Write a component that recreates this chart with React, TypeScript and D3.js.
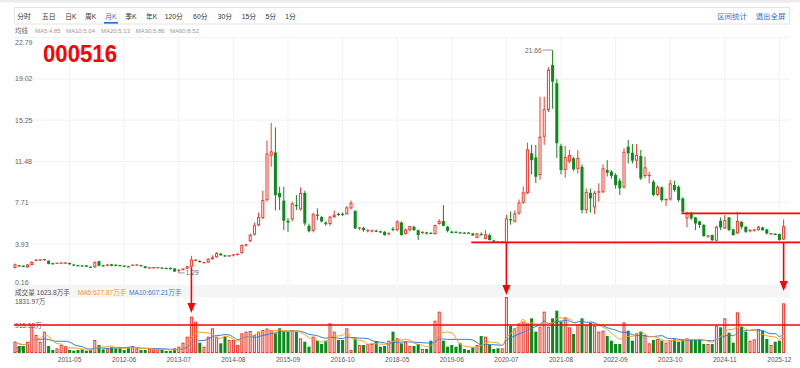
import React from "react";
import * as d3 from "d3";

// ---------------- DATA ----------------
const firstMonth = "2010-04";
const lastMonth = "2026-01";
const suspendedMonths = ["2017-02", "2017-03", "2017-04", "2017-05", "2017-06", "2017-07"];

const tickLabels = [
  "2011-05", "2012-06", "2013-07", "2014-08", "2015-09", "2016-10", "2018-05",
  "2019-06", "2020-07", "2021-08", "2022-09", "2023-10", "2024-11", "2025-12",
];

const openV = [
  1.75, 1.98, 1.95, 1.80, 2.02, 2.42, 2.44, 2.46, 2.40, 2.18,
  2.14, 2.15, 2.16, 2.20, 2.06, 2.00, 1.98, 1.98, 1.86, 1.80,
  2.36, 1.98, 1.96, 2.08, 2.04, 2.00, 1.96, 1.90, 1.96, 1.98,
  2.00, 1.90, 1.74, 1.74, 1.76, 1.78, 1.74, 1.76, 1.70, 1.48,
  1.56, 1.68, 1.85, 2.40, 2.38, 2.20, 2.24, 2.55, 2.72, 3.05,
  2.90, 2.80, 2.86, 2.92, 3.10, 3.80, 4.20, 4.80, 5.65, 6.30,
  7.95, 12.0, 12.3, 8.6, 7.9, 6.06, 6.19, 7.50, 7.10, 8.60,
  5.60, 5.14, 6.62, 6.40, 5.90, 5.76, 6.40, 6.70, 6.70, 6.66,
  7.19, 6.97, 5.30, 5.40, 5.10, 5.10, 5.16, 5.10, 5.05, 4.86,
  5.32, 5.20, 5.90, 4.84, 5.20, 5.50, 5.20, 4.90, 5.00, 4.96,
  4.84, 5.76, 6.03, 5.51, 5.06, 5.06, 5.00, 4.98, 4.98, 4.90,
  4.50, 4.85, 4.40, 4.74, 4.26, 4.15, 4.08, 4.04, 6.20, 5.97,
  6.73, 7.70, 8.57, 12.22, 11.85, 10.24, 13.74, 16.18, 20.3, 18.63,
  12.9, 10.7, 11.46, 11.77, 10.8, 11.0, 7.04, 8.62, 7.28, 8.65,
  8.66, 10.7, 10.54, 10.24, 9.72, 9.11, 12.83, 12.28, 11.55, 11.98,
  10.15, 10.1, 9.63, 8.41, 9.11, 7.95, 8.01, 9.32, 9.17, 8.1,
  6.27, 6.73, 6.36, 6.0, 5.67, 4.62, 4.75, 4.23, 6.06, 5.36,
  6.36, 5.27, 4.9, 5.97, 5.51, 5.1, 5.15, 5.21, 5.45, 5.27,
  4.84, 4.86, 4.84, 4.35,
];

const highV = [
  2.15, 2.02, 1.98, 2.10, 2.35, 2.55, 2.56, 2.58, 2.44, 2.22,
  2.22, 2.24, 2.26, 2.24, 2.10, 2.04, 2.02, 2.02, 1.90, 2.34,
  2.40, 2.04, 2.08, 2.12, 2.08, 2.04, 1.98, 1.94, 2.06, 2.08,
  2.04, 1.92, 1.80, 1.82, 1.82, 1.80, 1.78, 1.78, 1.72, 1.60,
  1.72, 1.95, 2.85, 2.55, 2.45, 2.30, 2.64, 2.90, 3.20, 3.12,
  2.95, 2.92, 3.00, 3.06, 3.90, 3.95, 4.90, 5.90, 6.80, 8.80,
  13.4, 15.0, 14.6, 9.17, 9.17, 6.30, 7.80, 8.41, 9.11, 8.80,
  5.80, 6.80, 7.19, 6.50, 6.00, 6.50, 7.00, 6.80, 6.80, 7.40,
  7.90, 7.00, 5.50, 5.50, 5.30, 5.25, 5.25, 5.15, 5.10, 4.95,
  5.50, 6.10, 6.00, 5.35, 5.60, 5.60, 5.25, 5.10, 5.05, 5.00,
  5.70, 6.20, 7.49, 5.60, 5.15, 5.10, 5.05, 5.02, 5.02, 4.95,
  4.95, 5.00, 5.20, 4.90, 4.30, 4.20, 4.20, 6.60, 6.90, 7.00,
  8.00, 9.20, 13.2, 13.0, 13.0, 17.4, 17.4, 20.1, 21.66, 19.0,
  13.1, 12.9, 12.53, 11.9, 12.5, 11.2, 9.02, 9.0, 8.8, 9.48,
  11.2, 11.6, 10.7, 10.4, 9.94, 12.7, 13.44, 13.07, 13.07, 12.53,
  11.91, 10.54, 9.8, 9.3, 9.2, 8.1, 9.8, 9.72, 9.3, 8.2,
  6.9, 6.88, 6.4, 6.06, 5.75, 4.75, 4.8, 5.6, 6.36, 6.58,
  6.4, 5.35, 6.88, 6.0, 5.55, 5.3, 5.3, 5.6, 5.5, 5.3,
  4.95, 4.92, 4.9, 6.18,
];

const lowV = [
  1.70, 1.88, 1.85, 1.76, 1.98, 2.35, 2.38, 2.40, 2.08, 2.08,
  2.10, 2.12, 2.12, 2.04, 1.96, 1.93, 1.92, 1.82, 1.78, 1.76,
  1.90, 1.88, 1.90, 1.90, 1.90, 1.92, 1.82, 1.84, 1.92, 1.94,
  1.90, 1.70, 1.68, 1.70, 1.72, 1.70, 1.68, 1.60, 1.38, 1.29,
  1.50, 1.62, 1.80, 2.35, 2.26, 2.15, 2.20, 2.50, 2.68, 2.85,
  2.76, 2.75, 2.80, 2.88, 3.05, 3.70, 4.10, 4.70, 5.55, 6.20,
  7.80, 11.0, 7.0, 7.04, 5.21, 5.05, 6.00, 7.04, 7.00, 5.60,
  5.00, 5.00, 6.12, 5.90, 5.60, 5.60, 6.30, 6.50, 6.50, 6.60,
  7.10, 5.30, 5.20, 5.05, 5.00, 5.00, 5.05, 4.95, 4.70, 4.72,
  5.10, 5.10, 4.70, 4.80, 5.10, 5.15, 4.30, 4.85, 4.80, 4.85,
  4.80, 5.70, 5.55, 5.00, 4.90, 4.95, 4.90, 4.90, 4.90, 4.68,
  4.45, 4.70, 4.35, 4.25, 4.10, 4.05, 4.02, 3.98, 5.70, 5.90,
  6.60, 7.60, 8.50, 10.3, 9.5, 9.8, 13.0, 16.0, 16.3, 11.8,
  10.3, 10.0, 11.3, 10.6, 10.4, 6.73, 6.73, 6.8, 6.67, 7.8,
  8.6, 10.1, 9.9, 9.0, 8.41, 9.0, 11.3, 11.3, 10.85, 9.78,
  9.94, 9.48, 8.3, 8.3, 7.8, 7.4, 7.9, 8.71, 7.8, 6.8,
  5.45, 6.12, 5.21, 5.4, 4.6, 4.5, 4.2, 4.2, 5.21, 5.3,
  5.1, 4.7, 4.85, 5.3, 4.95, 5.0, 5.05, 5.15, 5.15, 4.8,
  4.75, 4.75, 4.25, 4.3,
];

const closeV = [
  2.08, 1.92, 1.88, 2.06, 2.30, 2.46, 2.48, 2.52, 2.12, 2.12,
  2.18, 2.20, 2.20, 2.08, 2.00, 1.96, 1.95, 1.86, 1.82, 2.28,
  1.95, 1.94, 2.02, 1.94, 1.95, 1.98, 1.86, 1.88, 2.00, 2.02,
  1.94, 1.74, 1.76, 1.77, 1.78, 1.74, 1.72, 1.64, 1.42, 1.55,
  1.68, 1.90, 2.52, 2.46, 2.30, 2.25, 2.58, 2.72, 3.10, 2.90,
  2.82, 2.86, 2.95, 3.00, 3.83, 3.86, 4.75, 5.65, 6.40, 7.95,
  12.2, 12.4, 8.4, 8.2, 6.06, 5.90, 7.65, 7.40, 8.60, 5.82,
  5.10, 6.66, 6.54, 6.00, 5.75, 6.43, 6.60, 6.65, 6.62, 7.28,
  7.70, 5.36, 5.40, 5.20, 5.16, 5.15, 5.12, 5.00, 4.75, 4.92,
  5.28, 6.00, 4.75, 5.27, 5.57, 5.20, 4.75, 5.00, 4.90, 4.92,
  5.67, 6.03, 5.60, 5.14, 5.02, 5.02, 4.94, 4.96, 4.95, 4.72,
  4.90, 4.82, 4.82, 4.30, 4.15, 4.10, 4.12, 6.27, 6.10, 6.73,
  7.74, 8.66, 12.59, 11.6, 10.08, 13.74, 16.25, 19.85, 18.77, 13.14,
  10.7, 11.9, 12.07, 10.76, 11.8, 7.04, 8.70, 8.10, 8.62, 8.70,
  10.85, 10.45, 10.17, 9.32, 9.02, 12.37, 12.22, 11.55, 12.07, 9.93,
  10.94, 10.2, 8.41, 9.17, 7.95, 8.0, 9.48, 8.87, 7.95, 6.88,
  6.73, 6.27, 5.81, 5.67, 4.66, 4.68, 4.29, 5.51, 5.45, 6.12,
  5.21, 4.75, 6.05, 5.51, 5.05, 5.21, 5.22, 5.51, 5.2, 4.9,
  4.88, 4.82, 4.29, 5.57,
];

// volume in 万手
const volumeV = [
  370, 229, 229, 370, 861, 589, 370, 698, 229, 98,
  153, 262, 229, 98, 76, 98, 120, 65, 98, 425,
  262, 120, 153, 185, 153, 185, 98, 185, 229, 153,
  98, 98, 142, 120, 120, 120, 65, 65, 153, 207,
  338, 534, 1188, 1025, 338, 207, 534, 807, 534, 316,
  534, 425, 425, 262, 643, 698, 719, 589, 698, 752,
  800, 750, 643, 807, 698, 698, 752, 698, 480, 370,
  207, 534, 403, 294, 403, 970, 698, 425, 425, 807,
  98, 480, 262, 262, 294, 294, 392, 207, 229, 403,
  698, 480, 316, 370, 229, 229, 294, 131, 131, 403,
  1057, 1352, 403, 207, 262, 207, 316, 131, 98, 185,
  262, 556, 534, 262, 131, 153, 153, 1831.97, 894, 807,
  970, 1025, 970, 1134, 698, 861, 1352, 861, 1134, 1384,
  1025, 1166, 839, 621, 916, 1134, 916, 992, 883, 698,
  730, 556, 403, 294, 294, 1003, 730, 403, 643, 698,
  589, 316, 425, 458, 403, 338, 425, 447, 370, 447,
  480, 447, 447, 447, 294, 294, 294, 894, 839, 1134,
  665, 338, 1330, 861, 698, 403, 447, 785, 730, 458,
  262, 370, 403, 1623.8,
];

const priceTicks = [0.16, 3.93, 7.71, 11.48, 15.25, 19.02, 22.79];
const volumeMax = 1831.97;
const volumeMid = 915.98;

const toolbarTabs = ["分时", "五日", "日K", "周K", "月K", "季K", "年K", "120分", "60分", "30分", "15分", "5分", "1分"];
const activeTab = "月K";
const toolbarLinks = ["区间统计", "退出全屏"];
const maLegend = ["MA5:4.85", "MA10:5.04", "MA20:5.13", "MA30:5.86", "MA60:8.52"];
const stockCode = "000516";
const volLegend = { total: "成交量 1623.8万手", ma5: "MA5:627.87万手", ma10: "MA10:607.21万手" };

// hand-drawn annotations (in data terms)
const arrowMarks = [
  { month: "2013-10", fromPrice: 1.8, toVolume: 1310 },
  { month: "2020-07", fromPrice: 4.08, toVolume: 1895 },
  { month: "2026-01", fromPrice: 4.08, toVolume: 2025 },
];
const levelLines = [
  { price: 4.08, fromMonth: "2019-11" },
  { price: 6.73, fromMonth: "2024-01" },
];

// ---------------- LAYOUT ----------------
const W = 800;
const H = 368;
const FONT = "'Liberation Sans', Arial, 'Noto Sans CJK SC', sans-serif";
const RED = "#ee3a2e";
const GREEN = "#0c8a1c";
const MARK = "#ff0000";
const tabCenters = [24, 48.7, 70.8, 90.7, 111, 131, 151.7, 173.7, 200.3, 225, 249, 270.8, 290.5];
const linkCenters = [732, 770.5];
const maLegendX = [35, 66, 101, 135.7, 170];

function buildMonths(): string[] {
  const out: string[] = [];
  for (let y = 2010; y <= 2026; y++) {
    for (let m = 1; m <= 12; m++) {
      const key = `${y}-${String(m).padStart(2, "0")}`;
      if (key < firstMonth || key > lastMonth) continue;
      if (suspendedMonths.includes(key)) continue;
      out.push(key);
    }
  }
  return out;
}

function movingAvg(vals: number[], n: number): number[] {
  return vals.map((_, i) => {
    const s = Math.max(0, i - n + 1);
    const slice = vals.slice(s, i + 1);
    return d3.mean(slice) as number;
  });
}

export default function App() {
  const months = buildMonths();
  const x = d3
    .scaleBand<string>()
    .domain(months)
    .range([12.3, 786.3])
    .paddingInner(0.28)
    .paddingOuter(0.28);
  const bw = x.bandwidth();
  const cx = (m: string) => (x(m) as number) + bw / 2;
  const yP = d3.scaleLinear().domain([0.16, 22.79]).range([285.3, 37.7]);
  const yV = d3.scaleLinear().domain([0, volumeMax]).range([353, 297]);

  const ma5 = movingAvg(volumeV, 5);
  const ma10 = movingAvg(volumeV, 10);
  const volLine = d3
    .line<number>()
    .x((_, i) => cx(months[i]))
    .y((d) => yV(d))
    .curve(d3.curveMonotoneX);

  const hiIdx = d3.maxIndex(highV);
  const loIdx = d3.minIndex(lowV);

  return (
    <svg
      width={W}
      height={H}
      viewBox={`0 0 ${W} ${H}`}
      style={{ position: "absolute", left: 0, top: 0, background: "#fff", fontFamily: FONT }}
    >
      <rect x={0} y={0} width={W} height={H} fill="#fff" />
      <rect x={0} y={0} width={W} height={2.5} fill="#ececec" />

      {/* toolbar */}
      <rect x={14.5} y={7.5} width={775} height={16.5} fill="#fff" stroke="#e4e4e4" />
      {toolbarTabs.map((t, i) => (
        <text
          key={t}
          x={tabCenters[i]}
          y={16}
          fontSize={6.8}
          textAnchor="middle"
          dominantBaseline="central"
          fill={t === activeTab ? "#1f6fd6" : "#333"}
        >
          {t}
        </text>
      ))}
      <rect x={104} y={22} width={14} height={1.6} fill="#1f6fd6" />
      {toolbarLinks.map((t, i) => (
        <text key={t} x={linkCenters[i]} y={16} fontSize={7.4} textAnchor="middle" dominantBaseline="central" fill="#1f6fd6">
          {t}
        </text>
      ))}

      {/* MA legend */}
      <text x={15} y={30.5} fontSize={6.4} dominantBaseline="central" fill="#666">均线</text>
      {maLegend.map((t, i) => (
        <text key={t} x={maLegendX[i]} y={30.5} fontSize={6} dominantBaseline="central" fill="#999">
          {t}
        </text>
      ))}

      {/* grid */}
      {priceTicks.map((v) => (
        <line key={"hg" + v} x1={14} x2={790} y1={yP(v)} y2={yP(v)} stroke="#f2f2f2" />
      ))}
      {tickLabels.map((m) => (
        <line key={"vg" + m} x1={cx(m)} x2={cx(m)} y1={37.7} y2={353} stroke="#f2f2f2" />
      ))}
      <rect x={14} y={286} width={776} height={11.5} fill="#f5f5f5" />
      <line x1={14} x2={790} y1={353.5} y2={353.5} stroke="#eeeeee" />

      {/* price tick labels */}
      {priceTicks.map((v, i) => {
        const yy = i === 0 ? yP(v) - 3 : i === priceTicks.length - 1 ? yP(v) + 4.8 : yP(v);
        return (
          <text key={"pl" + v} x={15} y={yy} fontSize={7} dominantBaseline="central" fill="#666">
            {v.toFixed(2)}
          </text>
        );
      })}

      {/* stock code */}
      <text x={43} y={61.5} fontSize={24} fontWeight="bold" fill={MARK} textLength={74} lengthAdjust="spacingAndGlyphs">
        {stockCode}
      </text>

      {/* volume labels */}
      <text x={15} y={292} fontSize={6.6} dominantBaseline="central" fill="#555">{volLegend.total}</text>
      <text x={77.7} y={292} fontSize={6.6} dominantBaseline="central" fill="#f29b1d">{volLegend.ma5}</text>
      <text x={129} y={292} fontSize={6.6} dominantBaseline="central" fill="#2f7ed8">{volLegend.ma10}</text>
      <text x={15} y={yV(volumeMax) + 4.5} fontSize={6.6} dominantBaseline="central" fill="#555">
        {volumeMax.toFixed(2)}万
      </text>
      <text x={15} y={yV(volumeMid)} fontSize={6.6} dominantBaseline="central" fill="#555">
        {volumeMid.toFixed(2)}万
      </text>
      <text x={15} y={349} fontSize={6.6} dominantBaseline="central" fill="#555">0万</text>

      {/* candles */}
      {months.map((m, i) => {
        const o = openV[i], c = closeV[i], h = highV[i], l = lowV[i];
        const up = c >= o;
        const col = up ? RED : GREEN;
        const x0 = x(m) as number;
        const top = yP(Math.max(o, c));
        const bot = yP(Math.min(o, c));
        const bh = bot - top;
        return (
          <g key={"c" + m}>
            <line x1={cx(m)} x2={cx(m)} y1={yP(h)} y2={yP(l)} stroke={col} strokeWidth={1} />
            {up ? (
              bh > 1.2 ? (
                <rect x={x0 + 0.5} y={top + 0.5} width={bw - 1} height={bh - 1} fill="#fff" stroke={col} strokeWidth={1} />
              ) : (
                <rect x={x0} y={top - 0.5} width={bw} height={1.2} fill={col} />
              )
            ) : (
              <rect x={x0} y={top} width={bw} height={Math.max(bh, 1.2)} fill={col} />
            )}
          </g>
        );
      })}

      {/* high / low labels */}
      <line x1={cx(months[hiIdx]) - 10} x2={cx(months[hiIdx])} y1={yP(highV[hiIdx])} y2={yP(highV[hiIdx])} stroke="#999" />
      <text x={cx(months[hiIdx]) - 11} y={yP(highV[hiIdx])} fontSize={6.6} textAnchor="end" dominantBaseline="central" fill="#666">
        {highV[hiIdx].toFixed(2)}
      </text>
      <line x1={cx(months[loIdx])} x2={cx(months[loIdx]) + 6} y1={yP(lowV[loIdx])} y2={yP(lowV[loIdx])} stroke="#999" />
      <text x={cx(months[loIdx]) + 7} y={yP(lowV[loIdx])} fontSize={6.6} dominantBaseline="central" fill="#666">
        {lowV[loIdx].toFixed(2)}
      </text>

      {/* volume bars */}
      {months.map((m, i) => {
        const up = closeV[i] >= openV[i];
        const x0 = x(m) as number;
        const yt = yV(volumeV[i]);
        const hh = 353 - yt;
        return up ? (
          <rect key={"v" + m} x={x0 + 0.5} y={yt + 0.5} width={bw - 1} height={Math.max(hh - 1, 0.5)} fill="#fbdcdc" stroke={RED} strokeWidth={1} />
        ) : (
          <rect key={"v" + m} x={x0} y={yt} width={bw} height={hh} fill={GREEN} />
        );
      })}
      <path d={volLine(ma10) || ""} fill="none" stroke="#2f7ed8" strokeWidth={1} />
      <path d={volLine(ma5) || ""} fill="none" stroke="#f5a21f" strokeWidth={1} />

      {/* x labels */}
      {tickLabels.map((m) => (
        <text key={"xl" + m} x={cx(m)} y={359.5} fontSize={6.6} textAnchor="middle" dominantBaseline="central" fill="#555">
          {m}
        </text>
      ))}

      {/* hand-drawn annotations */}
      {levelLines.map((lv) => (
        <line key={"lv" + lv.price} x1={x(lv.fromMonth) as number} x2={W} y1={yP(lv.price)} y2={yP(lv.price)} stroke={MARK} strokeWidth={1.6} />
      ))}
      <line x1={14} x2={W} y1={yV(volumeMid)} y2={yV(volumeMid)} stroke={MARK} strokeWidth={1.6} />
      {arrowMarks.map((a) => {
        const ax = cx(a.month);
        const y1 = yP(a.fromPrice);
        const tip = yV(a.toVolume);
        return (
          <g key={"ar" + a.month}>
            <line x1={ax} x2={ax} y1={y1} y2={tip - 8} stroke={MARK} strokeWidth={1.6} />
            <polygon points={`${ax - 4},${tip - 10} ${ax + 4},${tip - 10} ${ax},${tip}`} fill={MARK} />
          </g>
        );
      })}
    </svg>
  );
}
